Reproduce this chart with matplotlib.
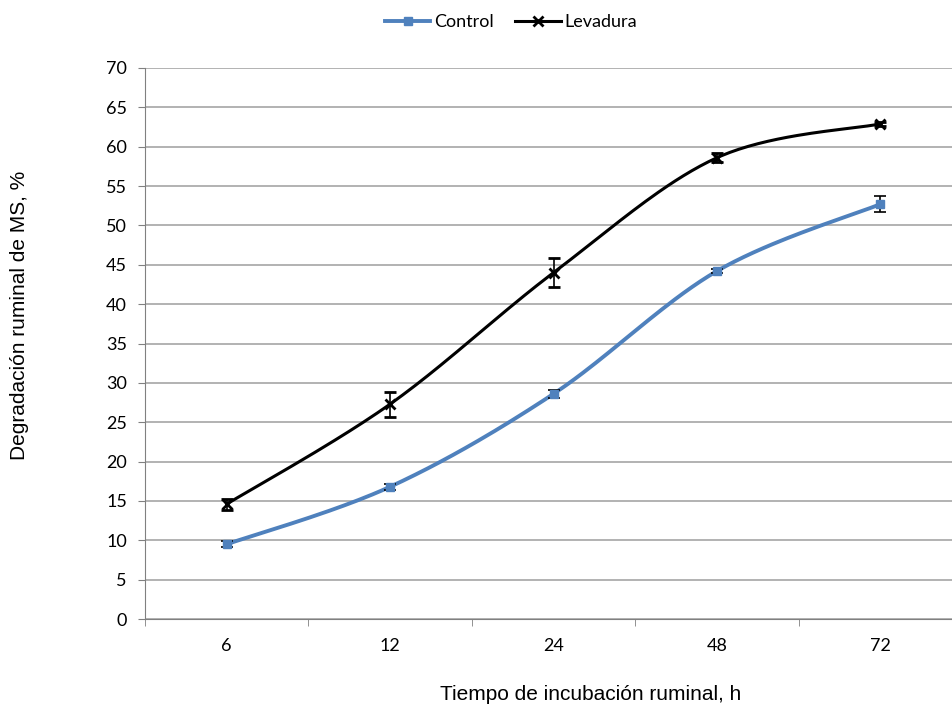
import numpy as np
import matplotlib
matplotlib.use('Agg')
from matplotlib import pyplot as plt

# data
horas = ['6', '12', '24', '48', '72']
control = [9.5, 16.8, 28.6, 44.2, 52.7]
control_err = [0.4, 0.4, 0.5, 0.3, 1.0]
levadura = [14.6, 27.3, 44.0, 58.6, 62.9]
levadura_err = [0.7, 1.6, 1.8, 0.6, 0.3]

def smooth(x, y, n=40):
    # Catmull-Rom style smoothing like Excel's smoothed line
    x = np.asarray(x, float); y = np.asarray(y, float)
    px = np.concatenate([[x[0]], x, [x[-1]]])
    py = np.concatenate([[y[0]], y, [y[-1]]])
    xs, ys = [], []
    for i in range(1, len(px) - 2):
        p0, p1, p2, p3 = [np.array([px[j], py[j]]) for j in (i-1, i, i+1, i+2)]
        c1 = p1 + (p2 - p0) / 6.0
        c2 = p2 - (p3 - p1) / 6.0
        t = np.linspace(0, 1, n)[:, None]
        b = (1-t)**3*p1 + 3*(1-t)**2*t*c1 + 3*(1-t)*t**2*c2 + t**3*p2
        xs.extend(b[:, 0]); ys.extend(b[:, 1])
    return np.array(xs), np.array(ys)

fig = plt.figure(figsize=(9.52, 7.06), dpi=100)
# plot area runs a little past the right edge of the picture, as in the original
ax = fig.add_axes([145/952, 87/706, 817/952, 551/706])

x = np.arange(len(horas))
blue = '#4f81bd'

sx, sy = smooth(x, control)
ax.plot(sx, sy, color=blue, lw=2.8, zorder=3)
ax.errorbar(x, control, yerr=control_err, fmt='s', color=blue, ms=6,
            ecolor='black', elinewidth=1.2, capsize=4, capthick=1.2, zorder=4)

sx, sy = smooth(x, levadura)
ax.plot(sx, sy, color='black', lw=2.2, zorder=3)
ax.errorbar(x, levadura, yerr=levadura_err, fmt='x', color='black', ms=7, mew=2,
            ecolor='black', elinewidth=1.2, capsize=4, capthick=1.2, zorder=4)

# legend proxies
ax.plot([], [], color=blue, lw=2.8, marker='s', ms=6, label='Control')
ax.plot([], [], color='black', lw=2.2, marker='x', ms=7, mew=2, label='Levadura')
h, l = ax.get_legend_handles_labels()
fig.legend(h[-2:], l[-2:], loc='center', bbox_to_anchor=(511/952, 1 - 22/706), ncol=2,
           frameon=False, handlelength=2.5, columnspacing=1.2, handletextpad=0.2,
           prop={'family': 'Lato', 'size': 13})

ax.set_ylim(0, 70)
ax.set_yticks(range(0, 71, 5))
ax.set_xlim(-0.5, 4.5)
ax.set_xticks(x)
ax.set_xticklabels(horas)
ax.set_xticks(np.arange(-0.5, 5, 1), minor=True)
ax.tick_params(axis='x', which='major', length=0, pad=14)
ax.tick_params(axis='x', which='minor', length=5, color='#808080', direction='out')
ax.tick_params(axis='y', length=5, color='#808080', direction='out', pad=8)
for lab in ax.get_xticklabels() + ax.get_yticklabels():
    lab.set_family('Lato'); lab.set_fontsize(13)

ax.grid(axis='y', color='#a6a6a6', lw=1.2)
ax.set_axisbelow(True)
for s in ('top', 'right'):
    ax.spines[s].set_visible(False)
ax.spines['left'].set_color('#808080')
ax.spines['bottom'].set_color('#808080')

fig.text(591/952, 1 - 694/706, 'Tiempo de incubación ruminal, h', ha='center', va='center',
         family='Liberation Sans', fontsize=15)
fig.text(20/952, 1 - 315/706, 'Degradación ruminal de MS, %', ha='center', va='center',
         rotation=90, family='Liberation Sans', fontsize=15)

fig.savefig('out.png', dpi=100)
